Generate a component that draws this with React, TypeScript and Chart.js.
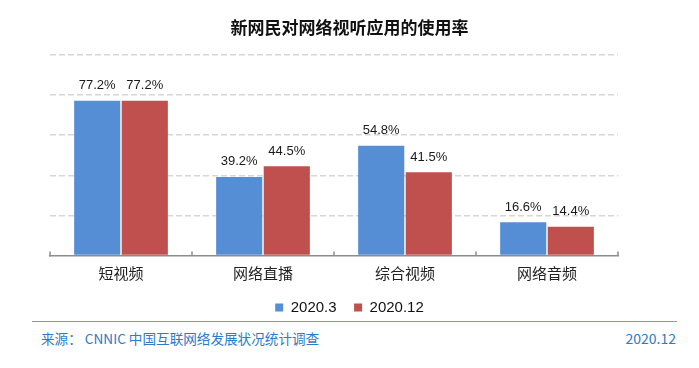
import React, { useEffect, useRef } from "react";
import { Chart, registerables } from "chart.js";

Chart.register(...registerables);

const TITLE = "新网民对网络视听应用的使用率";
const categories = ["短视频", "网络直播", "综合视频", "网络音频"];
const seriesNames = ["2020.3", "2020.12"];
const values2020_3 = [77.2, 39.2, 54.8, 16.6];
const values2020_12 = [77.2, 44.5, 41.5, 14.4];
const seriesColors = ["#558ED5", "#C0504D"];
const yMin = 0;
const yMax = 100;
const yStep = 20;
const SOURCE_TEXT = "来源： CNNIC 中国互联网络发展状况统计调查";
const DATE_TEXT = "2020.12";

const CJK = '"Noto Sans CJK SC", "Noto Sans", sans-serif';
const LATIN = '"Liberation Sans", Arial, sans-serif';

const valueLabelPlugin = {
  id: "valueLabels",
  afterDatasetsDraw(chart: any) {
    const ctx = chart.ctx;
    ctx.save();
    ctx.font = `13px ${LATIN}`;
    ctx.fillStyle = "#1a1a1a";
    ctx.textAlign = "center";
    ctx.textBaseline = "middle";
    chart.data.datasets.forEach((ds: any, di: number) => {
      const meta = chart.getDatasetMeta(di);
      meta.data.forEach((el: any, i: number) => {
        ctx.fillText(ds.data[i].toFixed(1) + "%", el.x, el.y - 15);
      });
    });
    ctx.restore();
  },
};

const axisTickPlugin = {
  id: "axisTicks",
  afterDraw(chart: any) {
    const x = chart.scales.x;
    const ctx = chart.ctx;
    const n = chart.data.labels.length;
    const y0 = x.top;
    ctx.save();
    ctx.strokeStyle = "#8c8c8c";
    ctx.lineWidth = 1.5;
    for (let i = 0; i <= n; i++) {
      const px = x.left + (i * (x.right - x.left)) / n;
      ctx.beginPath();
      ctx.moveTo(px, y0 - 4);
      ctx.lineTo(px, y0 + (i === 0 ? 1 : 0));
      ctx.stroke();
    }
    ctx.restore();
  },
};

export default function App() {
  const canvasRef = useRef<HTMLCanvasElement | null>(null);

  useEffect(() => {
    if (!canvasRef.current) return;
    const chart = new Chart(canvasRef.current, {
      type: "bar",
      data: {
        labels: categories,
        datasets: [
          {
            label: seriesNames[0],
            data: values2020_3,
            backgroundColor: seriesColors[0],
            categoryPercentage: 0.67,
            barPercentage: 0.97,
          },
          {
            label: seriesNames[1],
            data: values2020_12,
            backgroundColor: seriesColors[1],
            categoryPercentage: 0.67,
            barPercentage: 0.97,
          },
        ],
      },
      options: {
        responsive: false,
        animation: false,
        devicePixelRatio: 1,
        layout: { padding: 0 },
        plugins: {
          title: {
            display: true,
            text: TITLE,
            color: "#111",
            font: { family: CJK, size: 17, weight: "bold" },
            padding: { top: 17, bottom: 17.6 },
          },
          legend: {
            display: true,
            position: "bottom",
            labels: {
              boxWidth: 8,
              boxHeight: 8,
              color: "#111",
              font: { family: LATIN, size: 15 },
              padding: 17.5,
            },
          },
          tooltip: { enabled: false },
        },
        scales: {
          x: {
            grid: { display: false, drawTicks: false },
            border: { display: true, color: "#8c8c8c", width: 1.5 },
            ticks: {
              color: "#222",
              font: { family: CJK, size: 15 },
              padding: 9,
            },
            afterFit: (s: any) => {
              s.height = 27;
            },
          },
          y: {
            min: yMin,
            max: yMax,
            ticks: { display: false, stepSize: yStep },
            grid: {
              drawTicks: false,
              color: (c: any) => (c.tick && c.tick.value === 0 ? "rgba(0,0,0,0)" : "#d6d6d6"),
              lineWidth: 1.5,
            },
            border: { display: false, dash: [6, 3] },
            afterFit: (s: any) => {
              s.width = 50;
            },
          },
          y2: {
            type: "linear",
            position: "right",
            display: true,
            ticks: { display: false },
            grid: { display: false, drawTicks: false },
            border: { display: false },
            afterFit: (s: any) => {
              s.width = 81;
            },
          },
        },
      } as any,
      plugins: [valueLabelPlugin, axisTickPlugin],
    });
    return () => chart.destroy();
  }, []);

  return (
    <div
      style={{
        position: "absolute",
        left: 0,
        top: 0,
        width: 699,
        height: 368,
        background: "#fff",
        overflow: "hidden",
      }}
    >
      <canvas ref={canvasRef} width={699} height={325} style={{ position: "absolute", left: 0, top: 0 }} />
      <div
        style={{
          position: "absolute",
          left: 32,
          top: 320.5,
          width: 645,
          height: 1.5,
          background: "#6A9FD8",
        }}
      />
      <div
        style={{
          position: "absolute",
          left: 41,
          top: 328,
          fontFamily: CJK,
          fontSize: 13.6,
          lineHeight: "20px",
          color: "#2C7BCB",
          whiteSpace: "nowrap",
        }}
      >
        {SOURCE_TEXT}
      </div>
      <div
        style={{
          position: "absolute",
          right: 699 - 676,
          top: 328,
          fontFamily: CJK,
          fontSize: 14,
          lineHeight: "20px",
          color: "#2C7BCB",
          whiteSpace: "nowrap",
        }}
      >
        {DATE_TEXT}
      </div>
    </div>
  );
}
